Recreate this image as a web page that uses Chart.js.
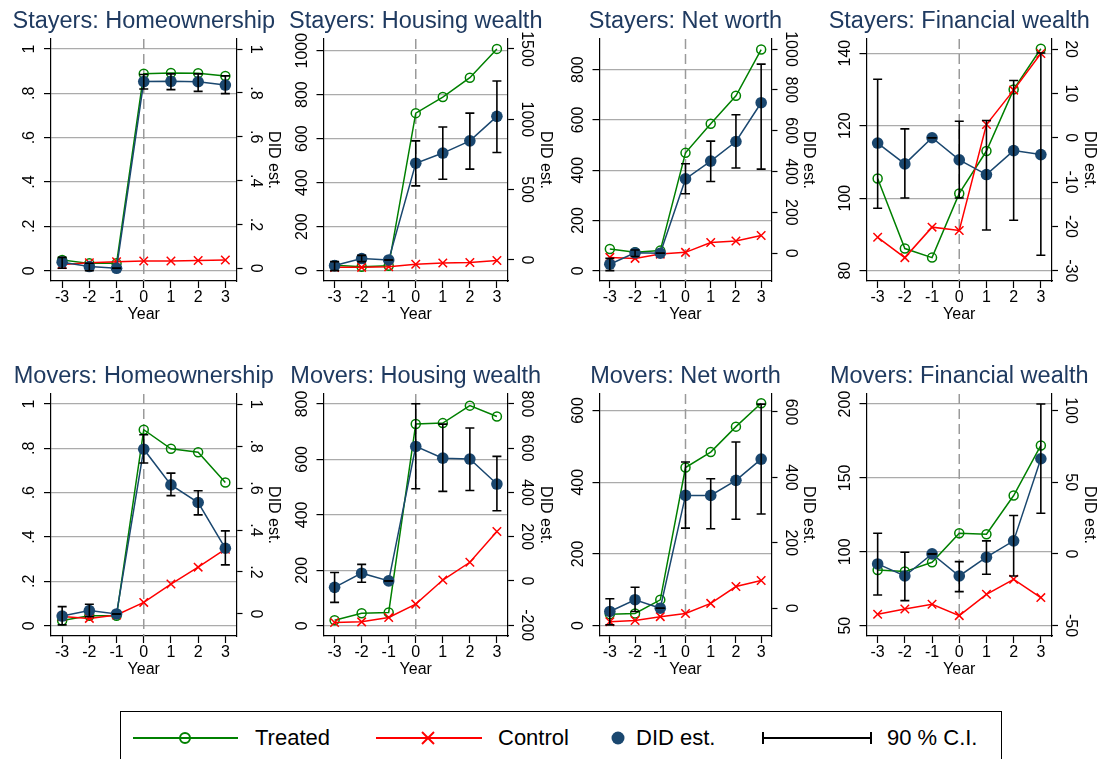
<!DOCTYPE html>
<html><head><meta charset="utf-8">
<script src="https://cdn.jsdelivr.net/npm/chart.js@4.4.1/dist/chart.umd.min.js"></script>
<style>
html,body{margin:0;padding:0;background:#fff;}
body{width:1099px;height:759px;position:relative;overflow:hidden;font-family:"Liberation Sans",Arial,sans-serif;}
canvas{position:absolute;}
.ttl{position:absolute;font-size:23.5px;line-height:30px;height:30px;white-space:nowrap;color:#1f3a60;transform:translateX(-50%);}
#legbox{position:absolute;left:120px;top:711px;width:882px;height:70px;border:1.2px solid #000;box-sizing:border-box;}
.lt{position:absolute;top:723px;font-size:22px;line-height:30px;white-space:nowrap;color:#000;}
</style></head>
<body>
<script>
// ---------- data ----------
const years = [-3, -2, -1, 0, 1, 2, 3];
const xTickLabels = ['-3', '-2', '-1', '0', '1', '2', '3'];

// Stayers: Homeownership
const stayOwnTreated = [0.048, 0.033, 0.033, 0.888, 0.892, 0.891, 0.878];
const stayOwnControl = [0.028, 0.036, 0.040, 0.044, 0.044, 0.046, 0.048];
const stayOwnDid     = [0.028, 0.008, 0, 0.852, 0.853, 0.851, 0.836];
const stayOwnLo      = [0.0, -0.011, 0, 0.818, 0.815, 0.807, 0.797];
const stayOwnHi      = [0.05, 0.023, 0, 0.884, 0.887, 0.887, 0.878];

// Stayers: Housing wealth
const stayHouseTreated = [25, 18, 22, 716, 789, 877, 1008];
const stayHouseControl = [15, 15, 18, 29, 35, 37, 46];
const stayHouseDid     = [-40, 10, 0, 688, 760, 847, 1021];
const stayHouseLo      = [-76, -12, 0, 527, 574, 646, 764];
const stayHouseHi      = [-12, 33, 0, 847, 945, 1044, 1272];

// Stayers: Net worth
const stayNetTreated = [86, 73, 80, 469, 585, 696, 880];
const stayNetControl = [53, 49, 66, 73, 112, 118, 140];
const stayNetDid     = [-54, 2, 0, 364, 451, 547, 737];
const stayNetLo      = [-85, -16, 0, 291, 351, 417, 412];
const stayNetHi      = [-25, 16, 0, 438, 549, 678, 926];

// Stayers: Financial wealth
const stayFinTreated = [105.4, 86.1, 83.6, 101.3, 113, 130, 141.2];
const stayFinControl = [89.2, 83.6, 92, 91.1, 120.3, 129.8, 139.9];
const stayFinDid     = [-1.2, -5.9, 0, -5, -8.3, -2.9, -3.8];
const stayFinLo      = [-15.9, -13.6, 0, -13.6, -20.8, -18.6, -26.5];
const stayFinHi      = [13.2, 2, 0, 3.7, 3.9, 12.9, 19.1];

// Movers: Homeownership
const moveOwnTreated = [0.023, 0.045, 0.045, 0.884, 0.798, 0.782, 0.646];
const moveOwnControl = [0.041, 0.033, 0.048, 0.105, 0.188, 0.264, 0.345];
const moveOwnDid     = [-0.01, 0.016, 0, 0.785, 0.615, 0.531, 0.313];
const moveOwnLo      = [-0.052, -0.013, 0, 0.719, 0.564, 0.472, 0.234];
const moveOwnHi      = [0.035, 0.046, 0, 0.854, 0.671, 0.587, 0.396];

// Movers: Housing wealth
const moveHouseTreated = [20, 45, 48, 728, 731, 794, 755];
const moveHouseControl = [12, 14, 30, 78, 165, 229, 340];
const moveHouseDid     = [-29, 35, 0, 608, 555, 551, 438];
const moveHouseLo      = [-97, -6, 0, 417, 405, 409, 317];
const moveHouseHi      = [38, 75, 0, 801, 709, 691, 563];

// Movers: Net worth
const moveNetTreated = [32, 34, 72, 441, 484, 555, 620];
const moveNetControl = [11, 14, 25, 34, 62, 109, 126];
const moveNetDid     = [-10, 26, 0, 345, 345, 391, 456];
const moveNetLo      = [-51, -10, 0, 245, 243, 272, 288];
const moveNetHi      = [29, 64, 0, 447, 396, 508, 624];

// Movers: Financial wealth
const moveFinTreated = [87.7, 86.6, 92.9, 112.6, 111.9, 138.1, 172];
const moveFinControl = [57.7, 61.3, 64.5, 56.8, 71.2, 81.4, 69];
const moveFinDid     = [-7, -15.4, 0, -15.4, -2.3, 9.1, 66.4];
const moveFinLo      = [-28.7, -32.6, 0, -26.3, -14.2, -15.4, 28.4];
const moveFinHi      = [14.4, 1.2, 0, -5.4, 9.1, 26.8, 104.6];

// tick values and labels
const shareTicks = [0, 0.2, 0.4, 0.6, 0.8, 1];
const shareLabels = ['0', '.2', '.4', '.6', '.8', '1'];
const t0to1000 = [0, 200, 400, 600, 800, 1000];
const l0to1000 = ['0', '200', '400', '600', '800', '1000'];
const t0to1500 = [0, 500, 1000, 1500];
const l0to1500 = ['0', '500', '1000', '1500'];
const t0to800 = [0, 200, 400, 600, 800];
const l0to800 = ['0', '200', '400', '600', '800'];
const t80to140 = [80, 100, 120, 140];
const l80to140 = ['80', '100', '120', '140'];
const tm30to20 = [-30, -20, -10, 0, 10, 20];
const lm30to20 = ['-30', '-20', '-10', '0', '10', '20'];
const tm200to800 = [-200, 0, 200, 400, 600, 800];
const lm200to800 = ['-200', '0', '200', '400', '600', '800'];
const t0to600 = [0, 200, 400, 600];
const l0to600 = ['0', '200', '400', '600'];
const t50to200 = [50, 100, 150, 200];
const l50to200 = ['50', '100', '150', '200'];
const tm50to100 = [-50, 0, 50, 100];
const lm50to100 = ['-50', '0', '50', '100'];

const REF_YEAR = 0;

// ---------- styling / geometry ----------
const FONT = '"Liberation Sans", Arial, sans-serif';
const TICK_SIZE = 16;
const TL = 7, TL_R = 6;
const GREEN = '#008000', RED = '#ff0000', NAVY = '#1a476f', GRID = '#ababab';
const COL_LEFT = [0, 275, 550, 824];
const ROW_TOP = [0, 355];
const CANVAS_W = 300, CANVAS_H = 330;
const AXIS_L = [51, 48.5, 49.5, 42.5];
const AXIS_R = [236.5, 233, 221.5, 228];
const PLOT_TOP = 39, PLOT_BOTTOM = 281;
const LABEL_GAP_L = 21, LABEL_GAP_R = 18.5;
const DID_TITLE_GAP = 37;
const YEAR_TITLE_Y = 314.5;
const X_MIN = -3.41, X_MAX = 3.41;

const panels = [
  {title: 'Stayers: Homeownership', col: 0, row: 0, treated: stayOwnTreated, control: stayOwnControl, did: stayOwnDid, lo: stayOwnLo, hi: stayOwnHi,
   yTicks: shareTicks, yLabels: shareLabels, y2Ticks: shareTicks, y2Labels: shareLabels, yMin: -0.0465, yMax: 1.045, y2Min: -0.058, y2Max: 1.046},
  {title: 'Stayers: Housing wealth', col: 1, row: 0, treated: stayHouseTreated, control: stayHouseControl, did: stayHouseDid, lo: stayHouseLo, hi: stayHouseHi,
   yTicks: t0to1000, yLabels: l0to1000, y2Ticks: t0to1500, y2Labels: l0to1500, yMin: -47, yMax: 1053, y2Min: -149.5, y2Max: 1571},
  {title: 'Stayers: Net worth', col: 2, row: 0, treated: stayNetTreated, control: stayNetControl, did: stayNetDid, lo: stayNetLo, hi: stayNetHi,
   yTicks: t0to800, yLabels: l0to800, y2Ticks: t0to1000, y2Labels: l0to1000, yMin: -41, yMax: 922, y2Min: -136, y2Max: 1049},
  {title: 'Stayers: Financial wealth', col: 3, row: 0, treated: stayFinTreated, control: stayFinControl, did: stayFinDid, lo: stayFinLo, hi: stayFinHi,
   yTicks: t80to140, yLabels: l80to140, y2Ticks: tm30to20, y2Labels: lm30to20, yMin: 77.15, yMax: 143.9, y2Min: -32.3, y2Max: 22.26},
  {title: 'Movers: Homeownership', col: 0, row: 1, treated: moveOwnTreated, control: moveOwnControl, did: moveOwnDid, lo: moveOwnLo, hi: moveOwnHi,
   yTicks: shareTicks, yLabels: shareLabels, y2Ticks: shareTicks, y2Labels: shareLabels, yMin: -0.0465, yMax: 1.045, y2Min: -0.105, y2Max: 1.048},
  {title: 'Movers: Housing wealth', col: 1, row: 1, treated: moveHouseTreated, control: moveHouseControl, did: moveHouseDid, lo: moveHouseLo, hi: moveHouseHi,
   yTicks: t0to800, yLabels: l0to800, y2Ticks: tm200to800, y2Labels: lm200to800, yMin: -37, yMax: 836, y2Min: -249, y2Max: 845},
  {title: 'Movers: Net worth', col: 2, row: 1, treated: moveNetTreated, control: moveNetControl, did: moveNetDid, lo: moveNetLo, hi: moveNetHi,
   yTicks: t0to600, yLabels: l0to600, y2Ticks: t0to600, y2Labels: l0to600, yMin: -29, yMax: 646, y2Min: -85, y2Max: 655},
  {title: 'Movers: Financial wealth', col: 3, row: 1, treated: moveFinTreated, control: moveFinControl, did: moveFinDid, lo: moveFinLo, hi: moveFinHi,
   yTicks: t50to200, yLabels: l50to200, y2Ticks: tm50to100, y2Labels: lm50to100, yMin: 43, yMax: 206.8, y2Min: -57.3, y2Max: 111.6}
];

const measureCtx = document.createElement('canvas').getContext('2d');
function widest(labels) {
  measureCtx.font = TICK_SIZE + 'px ' + FONT;
  return Math.max(...labels.map(l => measureCtx.measureText(l).width));
}

const refLinePlugin = {
  id: 'refLine',
  beforeDatasetsDraw(chart) {
    const ctx = chart.ctx;
    const x = chart.scales.x.getPixelForValue(REF_YEAR);
    const {top, bottom} = chart.chartArea;
    ctx.save();
    ctx.strokeStyle = '#9a9a9a';
    ctx.lineWidth = 1.5;
    ctx.setLineDash([10, 5]);
    ctx.beginPath();
    ctx.moveTo(x, top);
    ctx.lineTo(x, bottom);
    ctx.stroke();
    ctx.restore();
  }
};

function makeChart(p) {
  const cv = document.createElement('canvas');
  cv.width = CANVAS_W; cv.height = CANVAS_H;
  cv.style.left = COL_LEFT[p.col] + 'px';
  cv.style.top = ROW_TOP[p.row] + 'px';
  cv.style.width = CANVAS_W + 'px'; cv.style.height = CANVAS_H + 'px';
  document.body.appendChild(cv);

  const aL = AXIS_L[p.col], aR = AXIS_R[p.col];
  const wL = widest(p.yLabels), wR = widest(p.y2Labels);
  const tickFont = {family: FONT, size: TICK_SIZE};

  const ciData = [];
  years.forEach((yr, i) => {
    ciData.push({x: yr, y: p.lo[i]}, {x: yr, y: p.hi[i]}, {x: yr, y: null});
  });

  new Chart(cv, {
    type: 'line',
    data: {
      datasets: [
        {label: 'Treated', data: years.map((x, i) => ({x, y: p.treated[i]})), yAxisID: 'y',
         borderColor: GREEN, borderWidth: 1.5, tension: 0, pointStyle: 'circle', pointRadius: 4.5,
         pointBorderWidth: 1.5, pointBorderColor: GREEN, pointBackgroundColor: 'rgba(0,0,0,0)', order: 4},
        {label: 'Control', data: years.map((x, i) => ({x, y: p.control[i]})), yAxisID: 'y',
         borderColor: RED, borderWidth: 1.5, tension: 0, pointStyle: 'crossRot', pointRadius: 6,
         pointBorderWidth: 1.5, pointBorderColor: RED, order: 3},
        {label: 'DID est.', data: years.map((x, i) => ({x, y: p.did[i]})), yAxisID: 'y2',
         borderColor: NAVY, borderWidth: 1.5, tension: 0, pointStyle: 'circle', pointRadius: 5.8,
         pointBorderWidth: 0, pointBackgroundColor: NAVY, pointBorderColor: NAVY, order: 2},
        {label: '90 % C.I.', data: ciData, yAxisID: 'y2', spanGaps: false,
         borderColor: '#000', borderWidth: 1.6, tension: 0, pointStyle: 'line', pointRadius: 4.5,
         pointBorderWidth: 1.6, pointBorderColor: '#000', order: 1}
      ]
    },
    options: {
      responsive: false, animation: false, devicePixelRatio: 1, events: [],
      layout: {padding: {top: PLOT_TOP, bottom: 0, left: 0, right: 0}},
      plugins: {legend: {display: false}, tooltip: {enabled: false}},
      scales: {
        x: {
          type: 'linear', position: 'bottom', min: X_MIN, max: X_MAX, bounds: 'data',
          afterBuildTicks: s => { s.ticks = years.map(v => ({value: v})); },
          afterFit: s => { s.height = CANVAS_H - PLOT_BOTTOM; },
          ticks: {callback: (v, i) => xTickLabels[i], font: tickFont, color: '#000', padding: 0,
                  minRotation: 0, maxRotation: 0, autoSkip: false},
          grid: {display: true, drawOnChartArea: false, drawTicks: true, tickLength: TL, tickColor: '#000', tickWidth: 1.2},
          border: {display: true, color: '#000', width: 1.2},
          title: {display: true, text: 'Year', font: {family: FONT, size: 16}, color: '#000',
                  padding: {top: 0, bottom: CANVAS_H - YEAR_TITLE_Y - 9.6}}
        },
        y: {
          type: 'linear', position: 'left', min: p.yMin, max: p.yMax, bounds: 'data',
          afterBuildTicks: s => { s.ticks = p.yTicks.map(v => ({value: v})); },
          afterFit: s => { s.width = aL; },
          ticks: {callback: (v, i) => p.yLabels[i], font: tickFont, color: '#000',
                  minRotation: 90, maxRotation: 90, crossAlign: 'center',
                  padding: LABEL_GAP_L - TL - wL / 2, autoSkip: false},
          grid: {display: true, color: GRID, lineWidth: 1.2, drawOnChartArea: true, drawTicks: true,
                 tickLength: TL, tickColor: '#000', tickWidth: 1.2},
          border: {display: true, color: '#000', width: 1.2}
        },
        y2: {
          type: 'linear', position: 'right', min: p.y2Min, max: p.y2Max, bounds: 'data',
          afterBuildTicks: s => { s.ticks = p.y2Ticks.map(v => ({value: v})); },
          afterFit: s => { s.width = CANVAS_W - aR; },
          ticks: {callback: (v, i) => p.y2Labels[i], font: tickFont, color: '#000',
                  minRotation: -90, maxRotation: -90, crossAlign: 'center',
                  padding: LABEL_GAP_R - TL_R - wR / 2, autoSkip: false},
          grid: {display: true, drawOnChartArea: false, drawTicks: true, tickLength: TL_R, tickColor: '#000', tickWidth: 1.2},
          border: {display: true, color: '#000', width: 1.2},
          title: {display: true, text: 'DID est.', font: {family: FONT, size: 16}, color: '#000',
                  padding: {top: (CANVAS_W - aR - DID_TITLE_GAP) - 9.6, bottom: 0}}
        }
      }
    },
    plugins: [refLinePlugin]
  });

  const t = document.createElement('div');
  t.className = 'ttl';
  t.textContent = p.title;
  t.style.left = (COL_LEFT[p.col] + (aL + aR) / 2) + 'px';
  t.style.top = (ROW_TOP[p.row] + 5) + 'px';
  document.body.appendChild(t);
}

panels.forEach(makeChart);
</script>

<div id="legbox"></div>
<svg style="position:absolute;left:0;top:700px" width="1099" height="59">
  <line x1="133" y1="38" x2="238" y2="38" stroke="#008000" stroke-width="2"/>
  <circle cx="185" cy="38" r="5" fill="none" stroke="#008000" stroke-width="2"/>
  <line x1="376" y1="38" x2="482" y2="38" stroke="#ff0000" stroke-width="2"/>
  <line x1="422" y1="32" x2="434" y2="44" stroke="#ff0000" stroke-width="2"/>
  <line x1="422" y1="44" x2="434" y2="32" stroke="#ff0000" stroke-width="2"/>
  <circle cx="618" cy="38" r="6.5" fill="#1a476f"/>
  <line x1="762" y1="38" x2="872" y2="38" stroke="#000" stroke-width="2"/>
  <line x1="763" y1="32" x2="763" y2="44" stroke="#000" stroke-width="2"/>
  <line x1="871" y1="32" x2="871" y2="44" stroke="#000" stroke-width="2"/>
</svg>
<div class="lt" style="left:255px">Treated</div>
<div class="lt" style="left:498px">Control</div>
<div class="lt" style="left:636px">DID est.</div>
<div class="lt" style="left:887px">90 % C.I.</div>
</body></html>
